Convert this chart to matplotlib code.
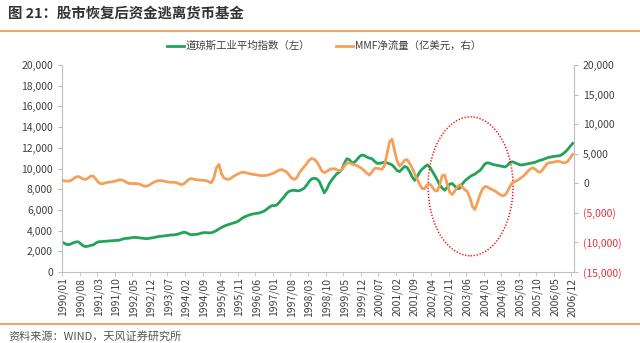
# 股市恢复后资金逃离货币基金 - chart rebuild
import matplotlib.pyplot as plt
import matplotlib.patches as patches
from matplotlib.lines import Line2D
import pandas as pd

plt.rcParams['font.family'] = ['Noto Sans CJK SC', 'DejaVu Sans']

# monthly categories 1990/01 .. 2006/12, a label every 7 months
months = pd.date_range('1990-01-01', '2006-12-01', freq='MS').strftime('%Y/%m').tolist()
tick_labels = months[::7]

# 道琼斯工业平均指数 (left axis)
djia = [2830, 2700, 2640, 2700, 2820, 2900, 2920, 2720, 2520, 2450, 2500, 2580,
        2620, 2800, 2920, 2940, 2960, 2990, 3010, 3030, 3030, 3050, 3060, 3120,
        3210, 3250, 3260, 3300, 3350, 3340, 3310, 3280, 3260, 3220, 3240, 3290,
        3320, 3370, 3430, 3450, 3480, 3510, 3530, 3580, 3580, 3620, 3680, 3760,
        3850, 3800, 3680, 3600, 3620, 3640, 3680, 3760, 3800, 3800, 3780, 3800,
        3880, 4000, 4150, 4300, 4420, 4520, 4600, 4680, 4750, 4830, 4950, 5150,
        5300, 5400, 5500, 5580, 5620, 5650, 5700, 5780, 5880, 6050, 6250, 6400,
        6420, 6460, 6700, 7000, 7250, 7600, 7800, 7870, 7900, 7850, 7850, 7950,
        8100, 8400, 8750, 9000, 9050, 9000, 8750, 8200, 7650, 8000, 8550, 8900,
        9200, 9500, 9650, 9900, 10500, 10950, 10850, 10550, 10600, 10850, 11150, 11300,
        11250, 11100, 11000, 10950, 10700, 10500, 10500, 10550, 10600, 10550, 10450, 10350,
        10100, 9800, 9700, 9950, 10200, 10100, 9700, 9200, 8850, 9200, 9650, 9950,
        10150, 10350, 10150, 9750, 9350, 8900, 8400, 8100, 7900, 8200, 8500, 8550,
        8300, 8050, 8100, 8500, 8800, 9000, 9200, 9350, 9450, 9650, 9800, 10100,
        10450, 10550, 10500, 10400, 10350, 10300, 10250, 10200, 10150, 10300, 10600, 10650,
        10550, 10450, 10350, 10350, 10400, 10450, 10500, 10550, 10600, 10700, 10800, 10850,
        10950, 11050, 11100, 11150, 11180, 11200, 11250, 11400, 11600, 11850, 12150, 12430]

# MMF净流量 (亿美元, right axis)
mmf = [450, 400, 350, 450, 750, 1050, 1150, 950, 700, 650, 900, 1250,
       1200, 700, 150, -100, -50, 100, 170, 220, 300, 400, 550, 580,
       450, 200, 0, -50, -40, -50, -80, -250, -450, -500, -350, -100,
       150, 350, 450, 450, 380, 280, 200, 170, 170, 120, -50, -220,
       -100, 250, 650, 800, 700, 600, 550, 520, 500, 450, 250, 70,
       900, 2600, 3200, 1700, 900, 700, 650, 900, 1200, 1450, 1650, 1850,
       1850, 1750, 1650, 1550, 1480, 1400, 1350, 1300, 1300, 1350, 1450, 1600,
       1750, 2000, 2250, 2320, 2150, 1900, 1400, 900, 650, 900, 1700, 2300,
       2800, 3300, 3900, 4200, 4050, 3650, 2900, 2100, 1800, 2000, 2300, 2450,
       2450, 2300, 2100, 2300, 2900, 3400, 3450, 3250, 3150, 3000, 2750, 2500,
       2100, 1700, 1400, 1900, 2500, 2550, 2450, 2350, 3000, 5000, 7000, 7450,
       5500, 3800, 2900, 3300, 3900, 4000, 3400, 2600, 1600, 700, -200, -900,
       -900, -250, -100, -600, -1200, -1300, -300, 1300, 1400, -200, -1500, -1900,
       -1300, -600, -220, -600, -1100, -1400, -2400, -3900, -4450, -3300, -2000, -1000,
       -550, -600, -900, -1100, -1300, -1600, -1900, -2100, -2000, -1400, -500, 100,
       300, 500, 800, 1100, 1500, 2000, 2400, 2600, 2400, 2000, 1850, 2300,
       2900, 3400, 3500, 3550, 3650, 3730, 3650, 3500, 3460, 3700, 4300, 4900]

left_ticks = list(range(0, 20001, 2000))
right_ticks = list(range(-15000, 20001, 5000))

green = '#21A45A'
orange = '#F5A05A'
grey = '#BFBFBF'
txt = '#404040'

fig = plt.figure(figsize=(6.4, 3.43), dpi=100)
ax = fig.add_axes([62/640, 71/343, 512/640, 207/343])
x = list(range(len(months)))

ax.plot(x, djia, color=green, lw=2, label='道琼斯工业平均指数（左）')
ax.set_xlim(-0.5, len(months) - 0.5)
ax.set_ylim(0, 20000)
ax.set_yticks(left_ticks)
ax.set_yticklabels([f'{v:,}' for v in left_ticks])
ax.set_xticks(range(0, len(months), 7))
ax.set_xticklabels(tick_labels, rotation=90)
ax.set_xticks([k - 0.5 for k in range(0, len(months), 7)], minor=True)
ax.tick_params(axis='x', which='major', length=0, pad=4, labelsize=7.5, labelcolor=txt)
ax.tick_params(axis='x', which='minor', length=3, color=grey)
ax.tick_params(axis='y', length=3, color=grey, labelsize=7.5, labelcolor=txt)

ax2 = ax.twinx()
ax2.plot(x, mmf, color=orange, lw=2, label='MMF净流量（亿美元，右）')
ax2.set_ylim(-15000, 20000)
ax2.set_yticks(right_ticks)
ax2.set_yticklabels([f'({abs(v):,})' if v < 0 else f'{v:,}' for v in right_ticks])
ax2.tick_params(axis='y', length=3, color=grey, labelsize=7.5, labelcolor=txt)
for lab, v in zip(ax2.get_yticklabels(), right_ticks):
    if v < 0:
        lab.set_color('#E8303A')

for a in (ax, ax2):
    a.spines['top'].set_visible(False)
    for s in ('left', 'right', 'bottom'):
        a.spines[s].set_color(grey)
ax.spines['right'].set_visible(False)
ax2.spines['left'].set_visible(False)
ax2.spines['bottom'].set_visible(False)

# dotted red ellipse around 2002-2004
ax2.add_patch(patches.Ellipse((0.798, 0.414), 0.166, 0.671, transform=ax.transAxes,
                              fill=False, edgecolor='#FF0000', linestyle=(0, (0.8, 1.2)), lw=1.1))

h1, l1 = ax.get_legend_handles_labels()
h2, l2 = ax2.get_legend_handles_labels()
fig.legend(h1 + h2, l1 + l2, loc='center', bbox_to_anchor=(324/640, 1 - 46/343), ncol=2,
           frameon=False, fontsize=7.5, handlelength=1.6, columnspacing=2.5,
           handletextpad=0.2, labelcolor=txt)

fig.text(8/640, 1 - 14/343, '图 21：股市恢复后资金逃离货币基金', fontsize=10.4,
         fontweight='bold', va='center', color='#333333')
fig.add_artist(Line2D([0, 1], [1 - 31/343] * 2, color='#F4A460', lw=1.5, transform=fig.transFigure))
fig.add_artist(Line2D([0, 1], [1 - 324/343] * 2, color='#F4A460', lw=1.5, transform=fig.transFigure))
fig.text(8/640, 1 - 336/343, '资料来源：WIND，天风证券研究所', fontsize=8, va='center', color='#555555')

fig.savefig('out.png', dpi=100)
